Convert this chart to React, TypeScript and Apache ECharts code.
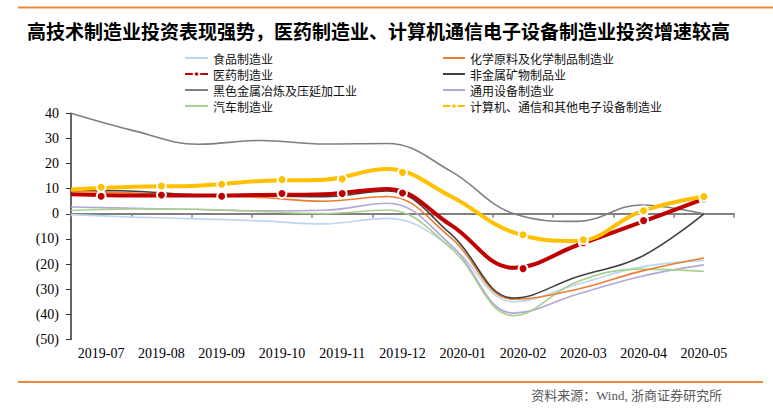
import React, { useEffect, useRef } from "react";
import * as echarts from "echarts";

const months = [
  "2019-07", "2019-08", "2019-09", "2019-10", "2019-11", "2019-12",
  "2020-01", "2020-02", "2020-03", "2020-04", "2020-05",
];

// Curves
const food = [-0.3, -1.3, -2.0, -2.8, -4.0, -1.8, -13.0, -35.0, -28.0, -21.2, -18.5];
const chem = [9.0, 8.3, 7.3, 6.5, 5.0, 6.9, -9.5, -34.0, -30.0, -22.9, -17.6];
const pharma = [7.8, 7.3, 7.3, 7.5, 7.8, 9.9, -4.4, -21.5, -12.5, -3.4, 6.0];
const nonmetal = [9.5, 9.0, 7.5, 7.1, 6.8, 9.1, -8.0, -33.5, -25.0, -17.2, 0];
const ferrous = [40, 33, 27.7, 29.2, 27.8, 28.0, 17.0, 0, -3.0, 3.5, 0];
const general = [2.7, 2.2, 1.7, 1.2, 1.4, 4.2, -12.3, -39.5, -32.0, -24.9, -20.3];
const auto = [1.3, 1.9, 1.8, 0.9, 0.1, 1.5, -13.6, -40.5, -27.0, -22.0, -22.9];
const electronic = [9.7, 10.8, 11.2, 13.1, 13.6, 17.8, 7.0, -7.5, -10.8, 0.9, 6.9];

// Monthly markers (2020-01 has no value)
const pharmaPts = [7.0, 7.5, 7.0, 8.1, 8.1, 8.3, null, -21.8, -11.5, -2.7, 6.0];
const electronicPts = [10.6, 11.1, 11.8, 13.6, 13.9, 16.5, null, -8.3, -10.3, 1.2, 6.9];

const yTicks = { min: -50, max: 40, step: 10 };

const titleText =
  "高技术制造业投资表现强势，医药制造业、计算机通信电子设备制造业投资增速较高";
const sourceText = "资料来源：Wind, 浙商证券研究所";

const names = {
  food: "食品制造业",
  chem: "化学原料及化学制品制造业",
  pharma: "医药制造业",
  nonmetal: "非金属矿物制品业",
  ferrous: "黑色金属冶炼及压延加工业",
  general: "通用设备制造业",
  auto: "汽车制造业",
  electronic: "计算机、通信和其他电子设备制造业",
};

const colors = {
  food: "#bdd7ee",
  chem: "#ed7d31",
  pharma: "#c00000",
  nonmetal: "#404040",
  ferrous: "#7f7f7f",
  general: "#b4a7d6",
  auto: "#a9d18e",
  electronic: "#ffc000",
};

const SERIF = '"Liberation Serif", "Times New Roman", serif';
const CJK = '"Noto Sans CJK SC", sans-serif';

export default function App() {
  const ref = useRef<HTMLDivElement>(null);

  useEffect(() => {
    if (!ref.current) return;
    const chart = echarts.init(ref.current, undefined, { renderer: "svg" });

    const span = (months.length - 0.5) / (months.length - 1);
    const curve = (vals: number[]) => vals.map((v, i) => [i * span, v]);
    const pts = (vals: (number | null)[]) =>
      vals
        .map((v, i) => (v === null ? null : [i + 0.5, v]))
        .filter((d) => d !== null);

    const thinLine = (key: keyof typeof names, vals: number[]) => ({
      type: "line",
      name: names[key],
      xAxisIndex: 2,
      data: curve(vals),
      smooth: 0.4,
      symbol: "none",
      z: 2,
      lineStyle: { color: colors[key], width: 1.6 },
      itemStyle: { color: colors[key] },
    });

    const thickLine = (key: keyof typeof names, vals: number[], z: number) => ({
      type: "line",
      name: names[key],
      xAxisIndex: 2,
      data: curve(vals),
      smooth: 0.4,
      symbol: "circle",
      showSymbol: false,
      z,
      lineStyle: { color: colors[key], width: 4 },
      itemStyle: { color: colors[key], borderColor: "#fff", borderWidth: 1.5 },
    });

    const markers = (key: keyof typeof names, vals: (number | null)[], z: number) => ({
      type: "scatter",
      name: names[key] + "·",
      xAxisIndex: 2,
      data: pts(vals),
      symbol: "circle",
      symbolSize: 9,
      z,
      itemStyle: {
        color: colors[key],
        borderColor: "#ffffff",
        borderWidth: 2,
        opacity: 1,
      },
    });

    const legendCommon = {
      orient: "vertical",
      top: 50,
      itemWidth: 23,
      itemHeight: 7,
      itemGap: 0,
      selectedMode: false,
      padding: 0,
      textStyle: {
        fontSize: 12,
        fontFamily: CJK,
        color: "#111",
        lineHeight: 16,
      },
    };
    const plain = (name: string) => ({ name, itemStyle: { opacity: 0 } });

    chart.setOption({
      animation: false,
      backgroundColor: "#ffffff",
      title: {
        text: titleText,
        left: 27,
        top: 20,
        padding: 0,
        textStyle: {
          fontSize: 19,
          fontWeight: "bold",
          fontFamily: CJK,
          color: "#000",
          lineHeight: 20,
        },
      },
      legend: [
        {
          ...legendCommon,
          left: 184,
          data: [plain(names.food), { name: names.pharma }, plain(names.ferrous), plain(names.auto)],
        },
        {
          ...legendCommon,
          left: 442,
          itemWidth: 22,
          data: [plain(names.chem), plain(names.nonmetal), plain(names.general), { name: names.electronic }],
        },
      ],
      grid: { left: 71, right: 39, top: 113.3, bottom: 71.5 },
      xAxis: [
        {
          type: "category",
          data: months,
          position: "bottom",
          boundaryGap: true,
          axisLine: { show: false, onZero: false },
          axisTick: { show: false },
          splitLine: { show: false },
          axisLabel: {
            interval: 0,
            margin: 7,
            fontSize: 14,
            fontFamily: SERIF,
            color: "#000",
          },
        },
        {
          type: "category",
          data: months,
          position: "top",
          boundaryGap: true,
          axisLine: {
            show: true,
            onZero: true,
            lineStyle: { color: "#808080", width: 2 },
          },
          axisTick: {
            show: true,
            inside: true,
            length: 4,
            interval: 0,
            lineStyle: { color: "#808080", width: 1.5 },
          },
          axisLabel: { show: false },
          splitLine: { show: false },
        },
        {
          type: "value",
          min: 0,
          max: months.length,
          show: false,
        },
      ],
      yAxis: {
        type: "value",
        min: yTicks.min,
        max: yTicks.max,
        interval: yTicks.step,
        axisLine: {
          show: true,
          onZero: false,
          lineStyle: { color: "#333", width: 1.5 },
        },
        axisTick: { show: true, length: 5, lineStyle: { color: "#333" } },
        splitLine: { show: false },
        axisLabel: {
          margin: 12,
          fontSize: 14,
          fontFamily: SERIF,
          color: "#000",
          formatter: (v: number) => (v < 0 ? `(${-v})` : `${v}`),
        },
      },
      series: [
        thinLine("ferrous", ferrous),
        thinLine("food", food),
        thinLine("general", general),
        thinLine("auto", auto),
        thinLine("chem", chem),
        thinLine("nonmetal", nonmetal),
        thickLine("pharma", pharma, 3),
        markers("pharma", pharmaPts, 4),
        thickLine("electronic", electronic, 5),
        markers("electronic", electronicPts, 6),
      ],
      graphic: [
        {
          type: "line",
          shape: { x1: 18, y1: 7.5, x2: 773, y2: 7.5 },
          style: { stroke: "#eb8a3e", lineWidth: 2 },
        },
        {
          type: "line",
          shape: { x1: 18, y1: 382, x2: 763, y2: 382 },
          style: { stroke: "#eb8a3e", lineWidth: 2 },
        },
        {
          type: "text",
          x: 722,
          y: 395,
          style: {
            text: sourceText,
            align: "right",
            verticalAlign: "middle",
            fontSize: 13,
            fontFamily: SERIF + ", " + CJK,
            fill: "#595959",
          },
        },
      ],
    });

    return () => chart.dispose();
  }, []);

  return (
    <div
      ref={ref}
      style={{ position: "fixed", left: 0, top: 0, width: 773, height: 411 }}
    />
  );
}
